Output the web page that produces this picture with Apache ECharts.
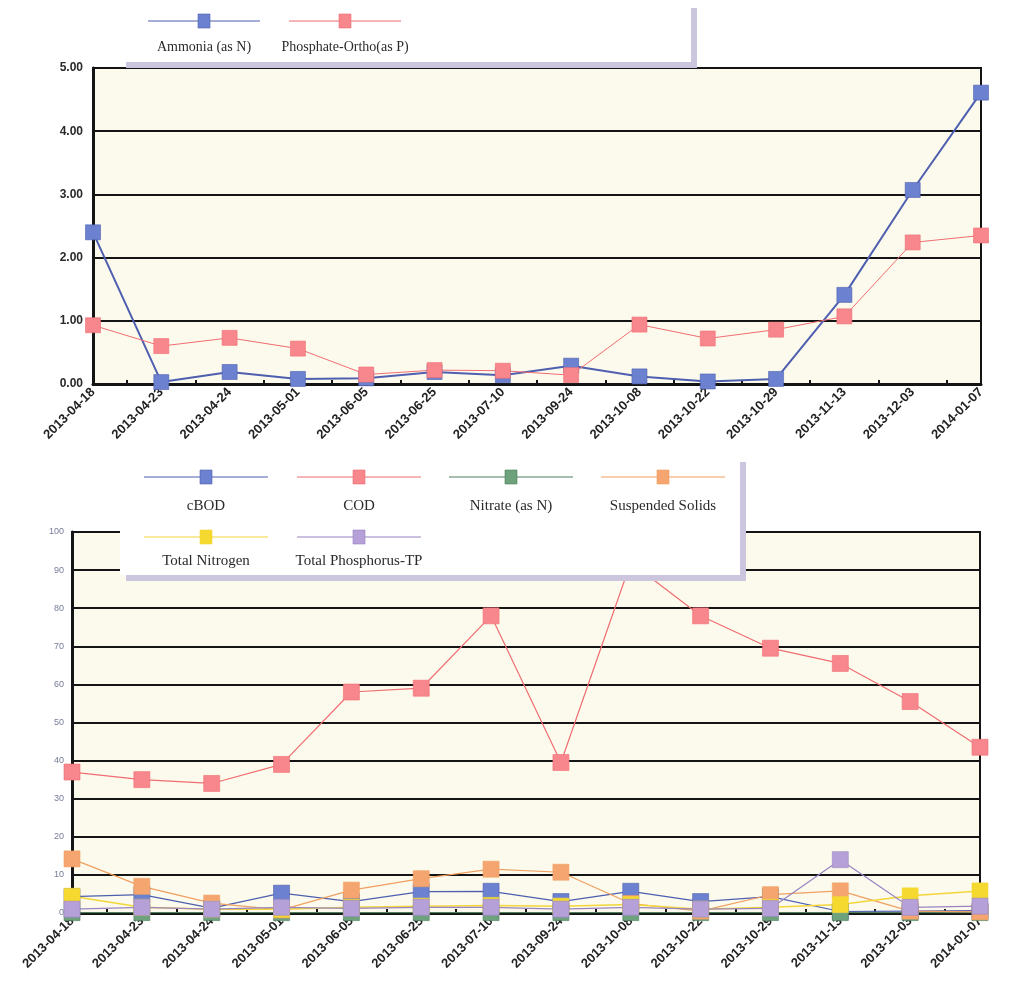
<!DOCTYPE html>
<html>
<head>
<meta charset="utf-8">
<script src="https://cdn.jsdelivr.net/npm/echarts@6/dist/echarts.min.js"></script>
<style>
  html, body { margin: 0; padding: 0; background: #ffffff; }
  #chart { width: 1026px; height: 989px; }
</style>
</head>
<body>
<div id="chart"></div>
<script>
// Sampling dates shared by both panels
const dates = ['2013-04-18', '2013-04-23', '2013-04-24', '2013-05-01', '2013-06-05', '2013-06-25', '2013-07-10',
               '2013-09-24', '2013-10-08', '2013-10-22', '2013-10-29', '2013-11-13', '2013-12-03', '2014-01-07'];

// Upper panel (mg/L)
const ammonia   = [2.40, 0.03, 0.19, 0.08, 0.09, 0.19, 0.14, 0.29, 0.12, 0.04, 0.08, 1.41, 3.07, 4.61];
const phosphate = [0.93, 0.60, 0.73, 0.56, 0.15, 0.22, 0.21, 0.14, 0.94, 0.72, 0.86, 1.07, 2.24, 2.35];

// Lower panel (mg/L)
const cbod    = [4.3, 4.8, 1.3, 5.2, 3.0, 5.6, 5.7, 3.0, 5.7, 3.0, 4.3, 0.4, 0.5, 0.6];
const cod     = [37, 35, 34, 39, 58, 59, 78, 39.5, 92, 78, 69.5, 65.5, 55.5, 43.5];
const nitrate = [0.1, 0.1, 0.1, 0.1, 0.1, 0.1, 0.1, 0.1, 0.1, 0.1, 0.1, 0.1, 0.1, 0.1];
const solids  = [14.2, 7.0, 2.6, 0.8, 6.0, 9.0, 11.5, 10.7, 2.5, 0.5, 4.8, 5.8, 0.5, 0.3];
const totalN  = [4.4, 1.5, 1.0, 1.0, 1.5, 1.8, 2.0, 1.8, 2.2, 1.0, 1.5, 2.2, 4.5, 5.8];
const totalP  = [1.0, 1.5, 1.0, 1.5, 1.2, 1.5, 1.5, 1.0, 1.5, 1.0, 1.2, 14.0, 1.5, 1.8];

// Axis ranges and label formats
const topAxis = { min: 0, max: 5, step: 1, decimals: 2 };
const bottomAxis = { min: 0, max: 100, step: 10, decimals: 0 };

const topNames = ['Ammonia (as N)', 'Phosphate-Ortho(as P)'];
const bottomNames = ['cBOD', 'COD', 'Nitrate (as N)', 'Suspended Solids', 'Total Nitrogen', 'Total Phosphorus-TP'];

const palette = {
  blue:   { mark: '#6c81cf', line: '#4e5fb0' },
  pink:   { mark: '#f7878d', line: '#f06d72' },
  green:  { mark: '#6da27c', line: '#4f7f5c' },
  orange: { mark: '#f5a56f', line: '#f0a060' },
  yellow: { mark: '#f6d92f', line: '#f2d63a' },
  purple: { mark: '#b6a0d8', line: '#9a84c4' }
};

const topStyles = [palette.blue, palette.pink];
const bottomStyles = [palette.blue, palette.pink, palette.green, palette.orange, palette.yellow, palette.purple];

const plotBg = '#fcfaec';
const ink = '#141414';
const sansBold = { fontFamily: 'Liberation Sans, Arial, sans-serif', fontWeight: 'bold' };

// Hidden helper axis: small tick marks half-way between sampling dates
const midTicks = Array.from({ length: dates.length * 2 - 1 }, () => '');

function dateAxis(gridIndex) {
  return {
    type: 'category', gridIndex, data: dates, boundaryGap: false,
    axisLine: { lineStyle: { color: ink, width: 3 } },
    axisTick: { show: false },
    axisLabel: { rotate: 45, margin: 6, fontSize: 13, color: '#222', ...sansBold },
    splitLine: { show: false }
  };
}

function tickAxis(gridIndex) {
  return {
    type: 'category', gridIndex, data: midTicks, boundaryGap: false, position: 'bottom',
    axisLine: { show: false },
    axisTick: { show: true, inside: true, length: 4, interval: (i) => i % 2 === 1,
                lineStyle: { color: ink, width: 2 } },
    axisLabel: { show: false },
    splitLine: { show: false }
  };
}

function valueAxis(gridIndex, cfg, labelStyle) {
  return {
    type: 'value', gridIndex, min: cfg.min, max: cfg.max, interval: cfg.step,
    axisLine: { show: true, lineStyle: { color: ink, width: 3 } },
    axisTick: { show: false },
    splitLine: { lineStyle: { color: ink, width: 2 } },
    axisLabel: Object.assign({ formatter: (v) => v.toFixed(cfg.decimals) }, labelStyle)
  };
}

function lineSeries(name, data, style, axisIdx, size, width) {
  return {
    type: 'line', name, data, xAxisIndex: axisIdx, yAxisIndex: axisIdx,
    symbol: 'rect', symbolSize: size, showSymbol: true,
    lineStyle: { color: style.line, width },
    itemStyle: { color: style.mark, borderColor: style.line, borderWidth: 0.6, opacity: 1 },
    emphasis: { disabled: true },
    animation: false
  };
}

// Legend panel: white box with a lavender drop shadow, line+marker sample above each name
function legendPanel(box, items) {
  const els = [
    { type: 'rect', shape: { x: box.x + 6, y: box.y + 6, width: box.w, height: box.h },
      style: { fill: '#cbc5dd' }, z: 100 },
    { type: 'rect', shape: { x: box.x, y: box.y, width: box.w, height: box.h },
      style: { fill: '#ffffff' }, z: 101 }
  ];
  items.forEach((it) => {
    els.push({ type: 'line', shape: { x1: it.cx - it.half, y1: it.my, x2: it.cx + it.half, y2: it.my },
               style: { stroke: it.style.line, lineWidth: 1.2 }, z: 102 });
    els.push({ type: 'rect', shape: { x: it.cx - 6, y: it.my - 7, width: 12, height: 14 },
               style: { fill: it.style.mark, stroke: it.style.line, lineWidth: 0.6 }, z: 103 });
    els.push({ type: 'text', x: it.cx, y: it.ty, z: 103,
               style: { text: it.name, fill: '#2a2a2a', font: it.font,
                        textAlign: 'center', textVerticalAlign: 'middle' } });
  });
  return els;
}

const topItems = topNames.map((name, i) => ({
  name, style: topStyles[i], cx: [204, 345][i], half: 56, my: 21, ty: 47,
  font: '14px "Liberation Serif", "Times New Roman", serif'
}));

const bottomItems = bottomNames.map((name, i) => ({
  name, style: bottomStyles[i],
  cx: [206, 359, 511, 663][i % 4], half: 62,
  my: i < 4 ? 477 : 537, ty: i < 4 ? 506 : 561,
  font: '15px "Liberation Serif", "Times New Roman", serif'
}));

const chart = echarts.init(document.getElementById('chart'), null, { renderer: 'canvas' });

chart.setOption({
  backgroundColor: '#ffffff',
  animation: false,
  grid: [
    { left: 93, right: 45, top: 68, bottom: 605, show: true, backgroundColor: plotBg,
      borderColor: ink, borderWidth: 2 },
    { left: 72, right: 46, top: 532, bottom: 76, show: true, backgroundColor: plotBg,
      borderColor: ink, borderWidth: 2 }
  ],
  xAxis: [dateAxis(0), dateAxis(1), tickAxis(0), tickAxis(1)],
  yAxis: [
    valueAxis(0, topAxis, { fontSize: 12, color: '#2a2a2a', margin: 10, ...sansBold }),
    valueAxis(1, bottomAxis, { fontSize: 9, color: '#767c98', margin: 8,
                               fontFamily: 'Liberation Sans, Arial, sans-serif' })
  ],
  series: [
    lineSeries(topNames[0], ammonia, topStyles[0], 0, 15, 2),
    lineSeries(topNames[1], phosphate, topStyles[1], 0, 15, 1),
    lineSeries(bottomNames[0], cbod, bottomStyles[0], 1, 16, 1.2),
    lineSeries(bottomNames[1], cod, bottomStyles[1], 1, 16, 1.2),
    lineSeries(bottomNames[2], nitrate, bottomStyles[2], 1, 16, 1.2),
    lineSeries(bottomNames[3], solids, bottomStyles[3], 1, 16, 1.2),
    lineSeries(bottomNames[4], totalN, bottomStyles[4], 1, 16, 1.5),
    lineSeries(bottomNames[5], totalP, bottomStyles[5], 1, 16, 1.2)
  ],
  graphic: [
    ...legendPanel({ x: 120, y: 2, w: 571, h: 60 }, topItems),
    ...legendPanel({ x: 120, y: 456, w: 620, h: 119 }, bottomItems)
  ]
});
</script>
</body>
</html>
